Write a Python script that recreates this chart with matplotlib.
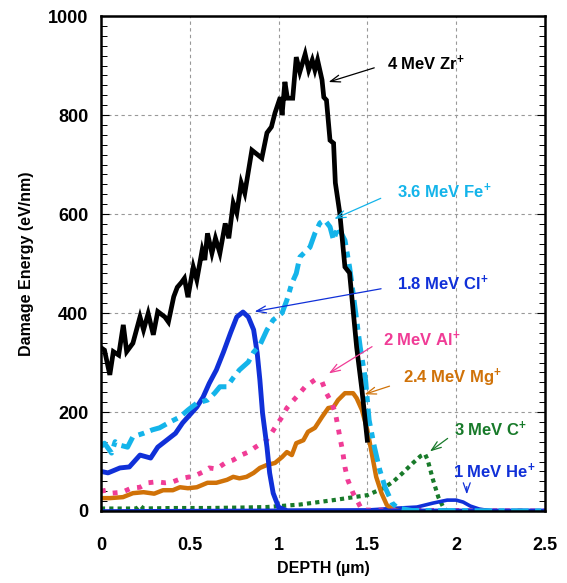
import numpy as np
import matplotlib.pyplot as plt
from matplotlib.ticker import MultipleLocator

plt.rcParams['font.family'] = ['Liberation Sans', 'DejaVu Sans']
plt.rcParams['font.weight'] = 'bold'
plt.rcParams['mathtext.fontset'] = 'custom'
plt.rcParams['mathtext.rm'] = 'Liberation Sans:bold'
plt.rcParams['mathtext.bf'] = 'Liberation Sans:bold'
plt.rcParams['mathtext.it'] = 'Liberation Sans:bold'

# 4 MeV Zr+
zr_x = [0, 0.02, 0.05, 0.07, 0.10, 0.126, 0.145, 0.18, 0.22, 0.24, 0.266, 0.295,
        0.32, 0.36, 0.38, 0.41, 0.43, 0.454, 0.47, 0.49, 0.52, 0.54, 0.57, 0.585,
        0.60, 0.625, 0.645, 0.67, 0.70, 0.72, 0.745, 0.765, 0.79, 0.81, 0.85,
        0.906, 0.935, 0.96, 0.98, 1.01, 1.02, 1.036, 1.05, 1.08, 1.10, 1.12, 1.15,
        1.17, 1.19, 1.205, 1.22, 1.245, 1.255, 1.27, 1.29, 1.31, 1.32, 1.345,
        1.374, 1.40, 1.44, 1.47, 1.50]
zr_y = [330, 325, 275, 322, 315, 376, 322, 339, 392, 366, 399, 356,
        403, 392, 382, 433, 452, 462, 470, 432, 493, 467, 527, 507,
        561, 521, 551, 521, 581, 551, 622, 602, 663, 642, 729,
        713, 764, 776, 804, 836, 800, 867, 834, 834, 917, 887, 923,
        891, 911, 891, 911, 871, 836, 830, 749, 743, 663, 602,
        493, 481, 331, 244, 143]

# 3.6 MeV Fe+
fe_x = [0, 0.02, 0.06, 0.08, 0.107, 0.15, 0.18, 0.24, 0.29, 0.33, 0.39, 0.445,
        0.49, 0.54, 0.60, 0.64, 0.67, 0.71, 0.745, 0.78, 0.83, 0.86, 0.895,
        0.935, 0.97, 1.02, 1.047, 1.075, 1.10, 1.12, 1.177, 1.205, 1.233, 1.26,
        1.29, 1.31, 1.335, 1.374, 1.40, 1.42, 1.46, 1.49, 1.51, 1.54, 1.57,
        1.60, 1.64, 1.67, 1.75, 2.5]
fe_y = [130, 137, 117, 140, 133, 129, 150, 157, 164, 168, 180, 190,
        204, 218, 224, 238, 251, 251, 269, 285, 301, 321, 335,
        366, 386, 400, 426, 460, 480, 513, 533, 561, 582, 588,
        574, 547, 574, 547, 493, 440, 331, 265, 184, 129, 83,
        48, 16, 6, 1, 0]

# 1.8 MeV Cl+
cl_x = [0, 0.04, 0.107, 0.16, 0.22, 0.28, 0.32, 0.37, 0.42, 0.46, 0.50, 0.54,
        0.575, 0.61, 0.65, 0.69, 0.73, 0.765, 0.80, 0.83, 0.86, 0.88, 0.895,
        0.91, 0.935, 0.95, 0.97, 1.0, 1.05, 2.5]
cl_y = [80, 77, 87, 89, 113, 107, 129, 143, 157, 178, 194, 210,
        230, 258, 285, 321, 360, 392, 402, 392, 366, 319, 265,
        198, 129, 77, 36, 8, 0, 0]

# 2 MeV Al+
al_x = [0, 0.03, 0.06, 0.12, 0.17, 0.22, 0.265, 0.315, 0.36, 0.405, 0.456,
        0.50, 0.54, 0.575, 0.61, 0.65, 0.70, 0.745, 0.79, 0.83, 0.87, 0.906,
        0.93, 0.96, 0.99, 1.02, 1.047, 1.075, 1.11, 1.15, 1.205, 1.245, 1.27,
        1.30, 1.32, 1.335, 1.345, 1.36, 1.374, 1.39, 1.42, 1.45, 1.47, 2.5]
al_y = [40, 42, 36, 38, 46, 48, 57, 59, 57, 59, 66,
        69, 73, 79, 87, 85, 97, 103, 113, 119, 129, 137,
        142, 157, 174, 190, 208, 220, 234, 251, 265, 261, 238,
        218, 198, 170, 150, 123, 89, 63, 36, 16, 2, 0]

# 2.4 MeV Mg+
mg_x = [0, 0.05, 0.124, 0.18, 0.24, 0.30, 0.35, 0.405, 0.445, 0.49, 0.54, 0.60,
        0.65, 0.71, 0.745, 0.78, 0.82, 0.86, 0.895, 0.935, 0.98, 1.02, 1.047,
        1.075, 1.10, 1.14, 1.166, 1.205, 1.245, 1.28, 1.31, 1.335, 1.374, 1.42,
        1.44, 1.47, 1.50, 1.525, 1.55, 1.58, 1.61, 1.64, 1.68]
mg_y = [26, 26, 28, 36, 38, 35, 42, 42, 48, 46, 48, 57,
        57, 63, 69, 66, 69, 77, 87, 93, 97, 109, 119,
        113, 137, 143, 160, 168, 190, 208, 210, 224, 238, 238,
        228, 204, 164, 117, 69, 36, 12, 4, 0]

# 3 MeV C+
c_x = [0, 0.2, 0.22, 0.24, 0.4, 0.6, 0.8, 0.935, 1.12, 1.31, 1.50, 1.59, 1.645,
       1.70, 1.757, 1.80, 1.825, 1.84, 1.87, 1.90, 1.93, 1.95]
c_y = [5, 5, 11, 5, 6, 6, 7, 8, 13, 22, 32, 46, 59,
       77, 97, 111, 115, 103, 63, 28, 6, 0]

# 1 MeV He+
he_x = [0, 1.5, 1.68, 1.78, 1.87, 1.95, 2.0, 2.04, 2.08, 2.13, 2.2, 2.5]
he_y = [0, 2, 6, 8, 16, 22, 22, 18, 10, 4, 0, 0]

c_zr = 'black'
c_fe = '#14b4ea'
c_cl = '#1030d8'
c_al = '#f03c96'
c_mg = '#d07208'
c_c = '#187a2a'
c_he = '#1030d8'

fig = plt.figure(figsize=(5.67, 5.83), dpi=100)
ax = fig.add_axes([0.178, 0.1235, 0.783, 0.849])

ax.plot(c_x, c_y, color=c_c, lw=3, linestyle=(0, (1, 1)), dash_capstyle='butt')
ax.plot(he_x, he_y, color=c_he, lw=2.6)
ax.plot(mg_x, mg_y, color=c_mg, lw=3.2)
ax.plot(al_x, al_y, color=c_al, lw=3.5, linestyle=(0, (1, 1.6)), dash_capstyle='butt')
ax.plot(cl_x, cl_y, color=c_cl, lw=3.5)
ax.plot(fe_x, fe_y, color=c_fe, lw=3.6, linestyle=(0, (3.5, 1.3, 1.2, 1.3)),
        dash_capstyle='butt')
ax.plot(zr_x, zr_y, color=c_zr, lw=3.4, solid_joinstyle='miter')

# annotations: (label, text pos, arrow tail, arrow head, color)
notes = [
    ('4 MeV Zr$^{+}$', (1.61, 905), (1.554, 897), (1.267, 865), c_zr),
    ('3.6 MeV Fe$^{+}$', (1.667, 645), (1.59, 634), (1.30, 588), c_fe),
    ('1.8 MeV Cl$^{+}$', (1.667, 459), (1.593, 450), (0.85, 402), c_cl),
    ('2 MeV Al$^{+}$', (1.59, 347), (1.54, 335), (1.27, 275), c_al),
    ('2.4 MeV Mg$^{+}$', (1.70, 269), (1.64, 254), (1.47, 234), c_mg),
    ('3 MeV C$^{+}$', (1.99, 164), (1.965, 150), (1.84, 117), c_c),
    ('1 MeV He$^{+}$', (1.98, 81), (2.06, 55), (2.06, 28), c_he),
]
for label, tpos, tail, head, col in notes:
    ax.text(tpos[0], tpos[1], label, color=col, fontsize=12, fontweight='bold',
            va='center', ha='left')
    ax.annotate('', xy=head, xytext=tail,
                arrowprops=dict(arrowstyle='->,head_length=0.7,head_width=0.25',
                                color=col, lw=0.9))

ax.set_xlim(0, 2.5)
ax.set_ylim(0, 1000)
ax.yaxis.set_major_locator(MultipleLocator(200))
ax.yaxis.set_minor_locator(MultipleLocator(20))
ax.set_xticks([0, 0.5, 1, 1.5, 2, 2.5])
ax.set_xticklabels(['0', '0.5', '1', '1.5', '2', '2.5'])
ax.grid(True, which='major', color='#999999', linestyle=(0, (3, 3)), lw=0.8)
ax.tick_params(axis='y', which='both', direction='in', left=True, right=True,
               labelsize=13, pad=9)
ax.tick_params(axis='y', which='major', length=6)
ax.tick_params(axis='y', which='minor', length=4, width=0.7)
ax.tick_params(axis='x', which='both', length=0, labelsize=13, pad=19)
for lab in ax.get_xticklabels() + ax.get_yticklabels():
    lab.set_fontweight('bold')
for s in ax.spines.values():
    s.set_linewidth(1.8)

ax.set_xlabel('DEPTH (\u00b5m)', fontsize=11.5, fontweight='bold', labelpad=5)
ax.set_ylabel('Damage Energy (eV/nm)', fontsize=11.5, fontweight='bold', labelpad=10)

fig.savefig('out.png', dpi=100)
